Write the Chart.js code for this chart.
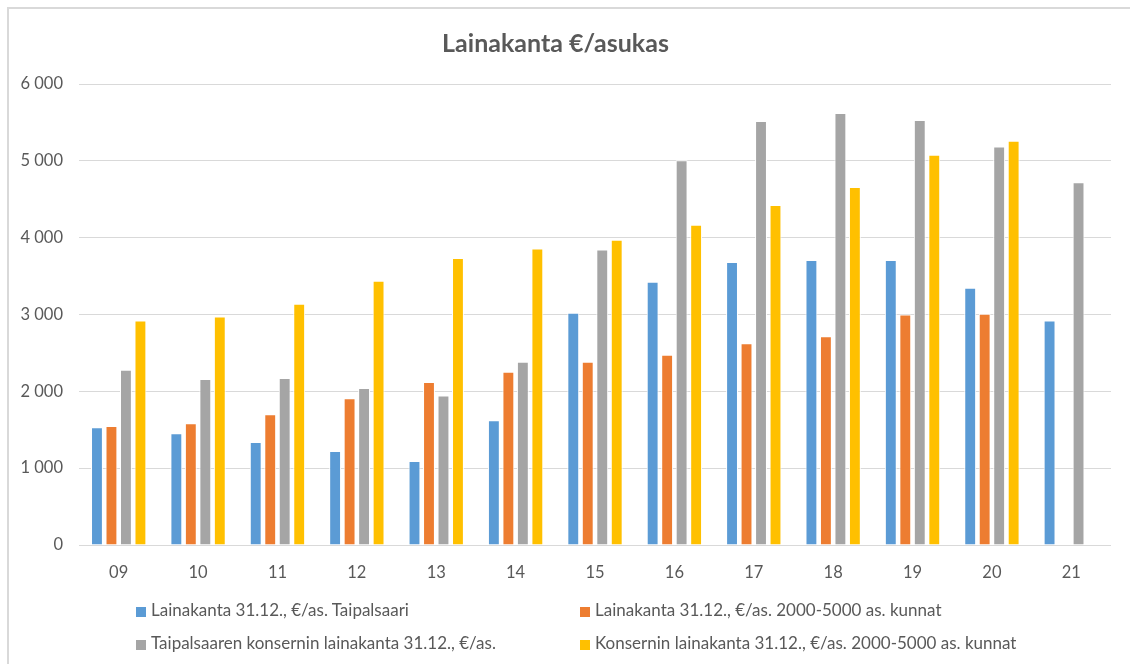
<!DOCTYPE html>
<html>
<head>
<meta charset="utf-8">
<script src="https://cdn.jsdelivr.net/npm/chart.js@4/dist/chart.umd.min.js"></script>
<style>
  html, body { margin: 0; padding: 0; background: #fff; overflow: hidden; }
  #wrap { position: relative; width: 1130px; height: 664px; }
  #frame { position: absolute; left: 7px; top: 7px; width: 1200px; height: 700px;
           border-left: 2px solid #d9d9d9; border-top: 2px solid #d9d9d9; }
  canvas { position: absolute; left: 0; top: 0; }
  #legend { position: absolute; left: 0; top: 0; font-family: Lato, sans-serif;
            font-size: 17px; color: #595959; }
  .item { position: absolute; white-space: nowrap; line-height: 20px; }
  .box { display: inline-block; width: 10px; height: 10px; margin-right: 5px; vertical-align: -1px; }
</style>
</head>
<body>
<div id="wrap">
  <div id="frame"></div>
  <canvas id="chart" width="1130" height="664"></canvas>
  <div id="legend"></div>
</div>
<script>
const years = ['09', '10', '11', '12', '13', '14', '15', '16', '17', '18', '19', '20', '21'];

const taipalsaari = [1533, 1455, 1342, 1224, 1094, 1624, 3022, 3426, 3682, 3708, 3708, 3348, 2922];
const kunnat = [1550, 1585, 1702, 1911, 2123, 2254, 2384, 2475, 2627, 2718, 3000, 3009, null];
const taipKonserni = [2280, 2162, 2175, 2045, 1945, 2384, 3847, 5007, 5519, 5623, 5532, 5185, 4720];
const kunnatKonserni = [2922, 2974, 3139, 3439, 3734, 3860, 3973, 4168, 4425, 4659, 5080, 5263, null];

const seriesNames = [
    'Lainakanta 31.12., €/as. Taipalsaari',
    'Lainakanta 31.12., €/as. 2000-5000 as. kunnat',
    'Taipalsaaren konsernin lainakanta 31.12., €/as.',
    'Konsernin lainakanta 31.12., €/as. 2000-5000 as. kunnat'
];
const colors = ['#5B9BD5', '#ED7D31', '#A5A5A5', '#FFC000'];
const yTicks = [0, 1000, 2000, 3000, 4000, 5000, 6000];

const textColor = '#595959';
const gridColor = '#D9D9D9';

const allData = [taipalsaari, kunnat, taipKonserni, kunnatKonserni];

const fmt = v => String(v).replace(/\B(?=(\d{3})+(?!\d))/g, ' ');

const ctx = document.getElementById('chart').getContext('2d');

new Chart(ctx, {
    type: 'bar',
    data: {
        labels: years,
        datasets: allData.map((d, i) => ({
            label: seriesNames[i],
            data: d,
            backgroundColor: colors[i],
            borderColor: '#ffffff',
            borderWidth: 1,
            categoryPercentage: 0.73,
            barPercentage: 0.82
        }))
    },
    options: {
        responsive: false,
        animation: false,
        layout: { padding: { left: 0, right: 19, top: 0, bottom: 79 } },
        plugins: {
            legend: { display: false },
            tooltip: { enabled: false },
            title: {
                display: true,
                text: 'Lainakanta €/asukas',
                color: textColor,
                font: { family: 'Lato', size: 25, weight: 'bold' },
                padding: { top: 29, bottom: 25 }
            }
        },
        scales: {
            x: {
                grid: { display: false },
                border: { display: false },
                ticks: { color: textColor, font: { family: 'Lato', size: 16.5 }, padding: 10 },
                afterFit: s => { s.height = 40; }
            },
            y: {
                min: 0,
                max: 6000,
                afterBuildTicks: s => { s.ticks = yTicks.map(v => ({ value: v })); },
                grid: { color: gridColor, drawTicks: false, lineWidth: 1 },
                border: { display: false },
                ticks: {
                    color: textColor,
                    font: { family: 'Lato', size: 16.5 },
                    padding: 16,
                    callback: v => fmt(v)
                },
                afterFit: s => { s.width = 79; }
            }
        }
    }
});

// legend in two columns like the original
const legendPos = [[136, 600], [580, 600], [136, 633], [580, 633]];
const legendEl = document.getElementById('legend');
seriesNames.forEach((name, i) => {
    const it = document.createElement('div');
    it.className = 'item';
    it.style.left = legendPos[i][0] + 'px';
    it.style.top = legendPos[i][1] + 'px';
    it.innerHTML = '<span class="box" style="background:' + colors[i] + '"></span>' + name;
    legendEl.appendChild(it);
});
</script>
</body>
</html>
